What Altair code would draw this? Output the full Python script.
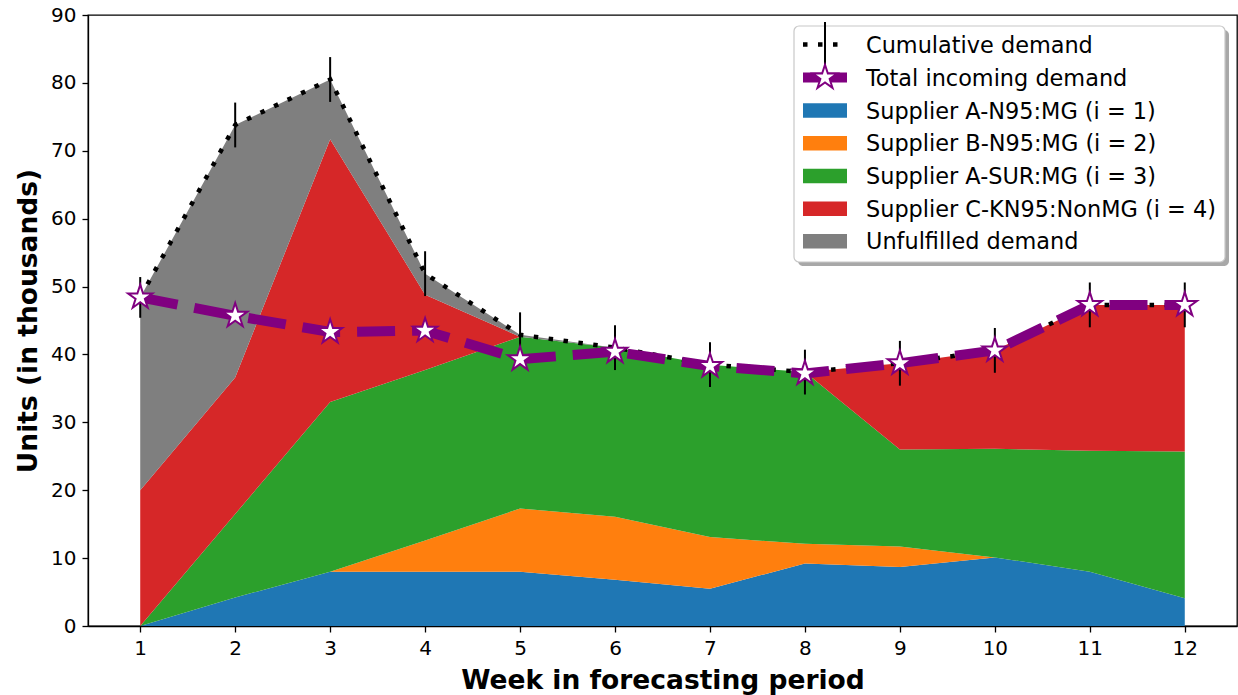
import math
import altair as alt
import pandas as pd

# ---- data (thousands of units per week) ----
weeks = [1, 2, 3, 4, 5, 6, 7, 8, 9, 10, 11, 12]
supplier_a_n95 = [0.0, 4.2, 8.0, 8.0, 8.0, 6.8, 5.5, 9.2, 8.7, 10.1, 8.0, 4.1]
supplier_b_n95 = [0.0, 0.0, 0.0, 4.6, 9.3, 9.3, 7.6, 2.9, 3.0, 0.0, 0.0, 0.0]
supplier_a_sur = [0.0, 12.3, 25.0, 25.1, 25.3, 24.9, 25.4, 25.3, 14.3, 16.0, 17.8, 21.6]
supplier_c_kn95 = [20.0, 20.1, 38.7, 11.1, 0.0, 0.0, 0.0, 0.0, 12.7, 14.5, 21.5, 21.6]
unfulfilled = [28.4, 37.2, 8.8, 3.1, 0.3, 0.0, 0.0, 0.0, 0.0, 0.0, 0.0, 0.0]
cumulative_demand = [48.4, 73.8, 80.5, 51.9, 42.9, 41.0, 38.5, 37.4, 38.7, 40.6, 47.3, 47.3]
incoming_demand = [48.4, 45.7, 43.3, 43.5, 39.3, 40.4, 38.3, 37.2, 38.7, 40.6, 47.3, 47.3]
demand_error = [3.0, 3.3, 3.3, 3.3, 3.3, 3.3, 3.3, 3.3, 3.3, 3.3, 3.3, 3.3]

series_names = [
    "Supplier A-N95:MG (i = 1)",
    "Supplier B-N95:MG (i = 2)",
    "Supplier A-SUR:MG (i = 3)",
    "Supplier C-KN95:NonMG (i = 4)",
    "Unfulfilled demand",
]
series_colors = ["#1f77b4", "#ff7f0e", "#2ca02c", "#d62728", "#7f7f7f"]
series_values = [supplier_a_n95, supplier_b_n95, supplier_a_sur, supplier_c_kn95, unfulfilled]

FONT = "DejaVu Sans"
PURPLE = "#800080"

# ---- stacked bands ----
rows = []
base = [0.0] * len(weeks)
for k, (name, vals) in enumerate(zip(series_names, series_values)):
    for i, w in enumerate(weeks):
        rows.append({"week": w, "series": name, "order": k,
                     "lo": base[i], "hi": base[i] + vals[i]})
    base = [base[i] + vals[i] for i in range(len(weeks))]
bands = pd.DataFrame(rows)

lines = pd.DataFrame({
    "week": weeks,
    "cumulative": cumulative_demand,
    "incoming": incoming_demand,
    "err_lo": [c - e for c, e in zip(cumulative_demand, demand_error)],
    "err_hi": [c + e for c, e in zip(cumulative_demand, demand_error)],
})

# five-pointed star outline (unit radius)
pts = []
for j in range(10):
    ang = math.radians(-90 + 36 * j)
    r = 1.0 if j % 2 == 0 else 0.381966
    pts.append(f"{r * math.cos(ang):.4f},{r * math.sin(ang):.4f}")
STAR = "M" + "L".join(pts) + "Z"
STAR_SIZE = 650

x_scale = alt.Scale(domain=[0.45, 12.55], nice=False, zero=False)
y_scale = alt.Scale(domain=[0, 90], nice=False)

x_enc = alt.X("week:Q", scale=x_scale,
              axis=alt.Axis(values=weeks, format="d", title="Week in forecasting period",
                            titlePadding=9))
y_axis = alt.Axis(values=list(range(0, 91, 10)), title="Units (in thousands)", titlePadding=8)

areas = alt.Chart(bands).mark_area(interpolate="linear", opacity=1).encode(
    x=x_enc,
    y=alt.Y("lo:Q", scale=y_scale, axis=y_axis),
    y2="hi:Q",
    color=alt.Color("series:N", scale=alt.Scale(domain=series_names, range=series_colors), legend=None),
    order=alt.Order("order:Q"),
)

cum_line = alt.Chart(lines).mark_line(
    color="black", strokeWidth=4.5, strokeDash=[4.5, 10.5], strokeCap="butt"
).encode(x=alt.X("week:Q", scale=x_scale), y=alt.Y("cumulative:Q", scale=y_scale))

err_bars = alt.Chart(lines).mark_rule(color="black", strokeWidth=2).encode(
    x=alt.X("week:Q", scale=x_scale), y=alt.Y("err_lo:Q", scale=y_scale), y2="err_hi:Q"
)

inc_line = alt.Chart(lines).mark_line(
    color=PURPLE, strokeWidth=10, strokeDash=[38, 17], strokeCap="butt"
).encode(x=alt.X("week:Q", scale=x_scale), y=alt.Y("incoming:Q", scale=y_scale))

stars = alt.Chart(lines).mark_point(
    shape=STAR, filled=True, fill="white", stroke=PURPLE, strokeWidth=2,
    size=STAR_SIZE, opacity=1
).encode(x=alt.X("week:Q", scale=x_scale), y=alt.Y("incoming:Q", scale=y_scale))

# ---- legend box (plot-area pixel coordinates) ----
one = pd.DataFrame({"k": [0]})
box_x0, box_x1, box_y0, box_y1 = 706, 1137, 11, 247
legend_layers = [
    alt.Chart(one).mark_rect(fill="#a8a8a8", cornerRadius=5).encode(
        x=alt.value(box_x0 + 4), x2=alt.value(box_x1 + 4),
        y=alt.value(box_y0 + 4), y2=alt.value(box_y1 + 4)),
    alt.Chart(one).mark_rect(fill="white", stroke="#c8c8c8", strokeWidth=1.2, cornerRadius=5).encode(
        x=alt.value(box_x0), x2=alt.value(box_x1),
        y=alt.value(box_y0), y2=alt.value(box_y1)),
]
row_y = [29.5, 62.5, 95.5, 128.3, 161.0, 193.7, 226.3]
hx0, hx1, tx = 715, 759, 778
# cumulative demand handle
legend_layers.append(alt.Chart(one).mark_rule(
    color="black", strokeWidth=4.5, strokeDash=[4.5, 10.5], strokeCap="butt").encode(
    x=alt.value(hx0), x2=alt.value(hx1), y=alt.value(row_y[0])))
# incoming demand handle
legend_layers.append(alt.Chart(one).mark_rule(color="black", strokeWidth=2).encode(
    x=alt.value((hx0 + hx1) / 2), y=alt.value(7), y2=alt.value(row_y[1])))
legend_layers.append(alt.Chart(one).mark_rule(color=PURPLE, strokeWidth=10, strokeCap="butt").encode(
    x=alt.value(hx0), x2=alt.value(hx1), y=alt.value(row_y[1])))
legend_layers.append(alt.Chart(one).mark_point(
    shape=STAR, filled=True, fill="white", stroke=PURPLE, strokeWidth=2,
    size=STAR_SIZE, opacity=1).encode(
    x=alt.value((hx0 + hx1) / 2), y=alt.value(row_y[1])))
# patches
for k, col in enumerate(series_colors):
    yc = row_y[k + 2]
    legend_layers.append(alt.Chart(one).mark_rect(fill=col).encode(
        x=alt.value(hx0), x2=alt.value(hx1), y=alt.value(yc - 7.3), y2=alt.value(yc + 7.3)))
legend_labels = ["Cumulative demand", "Total incoming demand"] + series_names
for lbl, yc in zip(legend_labels, row_y):
    legend_layers.append(alt.Chart(one).mark_text(
        text=lbl, font=FONT, fontSize=22.4, align="left", baseline="middle", color="black").encode(
        x=alt.value(tx), y=alt.value(yc + 1)))

chart = alt.layer(areas, cum_line, err_bars, inc_line, stars, *legend_layers).properties(
    width=1149, height=611,
    padding={"left": 88, "top": 15, "right": 1, "bottom": 69},
    autosize=alt.AutoSizeParams(type="none"),
    background="white",
).configure_view(
    stroke="black", strokeWidth=1.3
).configure_axis(
    grid=False, domainColor="black", domainWidth=1.3,
    tickColor="black", tickWidth=1.3, tickSize=6,
    labelFont=FONT, labelFontSize=20, labelColor="black", labelPadding=6,
    titleFont=FONT, titleFontSize=26.5, titleFontWeight="bold", titleColor="black",
)

chart.save("out.html", embed_options={"renderer": "svg", "actions": False})
